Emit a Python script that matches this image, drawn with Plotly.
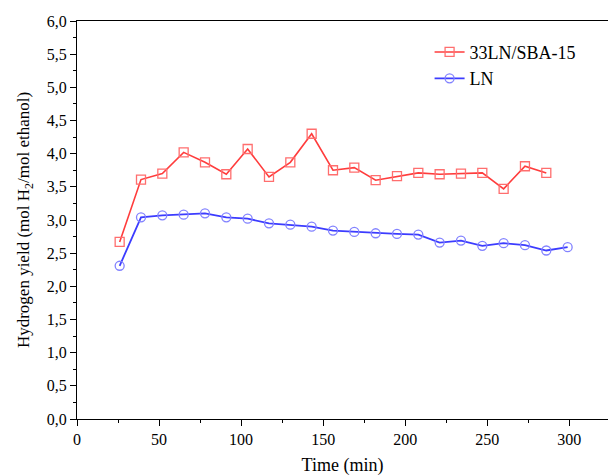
import plotly.graph_objects as go

time_red = [26, 39, 52, 65, 78, 91, 104, 117, 130, 143, 156, 169, 182, 195, 208, 221, 234, 247, 260, 273, 286]
yield_red = [2.67, 3.61, 3.70, 4.02, 3.87, 3.69, 4.07, 3.65, 3.87, 4.30, 3.75, 3.79, 3.60, 3.66, 3.71, 3.69, 3.70, 3.71, 3.47, 3.81, 3.71]

time_blue = [26, 39, 52, 65, 78, 91, 104, 117, 130, 143, 156, 169, 182, 195, 208, 221, 234, 247, 260, 273, 286, 299]
yield_blue = [2.31, 3.04, 3.07, 3.08, 3.10, 3.04, 3.02, 2.95, 2.93, 2.90, 2.84, 2.82, 2.80, 2.79, 2.78, 2.66, 2.69, 2.61, 2.65, 2.62, 2.54, 2.59]

FONT = "Liberation Serif"

fig = go.Figure()
fig.add_trace(go.Scatter(
    x=time_red, y=yield_red, name="33LN/SBA-15", mode="lines+markers",
    line=dict(color="rgb(255,60,60)", width=1.6),
    marker=dict(symbol="square-open", size=9, color="rgb(255,110,110)", line=dict(width=1.3)),
))
fig.add_trace(go.Scatter(
    x=time_blue, y=yield_blue, name="LN", mode="lines+markers",
    line=dict(color="rgb(60,60,255)", width=1.8),
    marker=dict(symbol="circle-open", size=9, color="rgb(130,130,255)", line=dict(width=1.3)),
))

fig.update_layout(
    width=608, height=476,
    margin=dict(l=77, r=0, t=21, b=57),
    paper_bgcolor="white", plot_bgcolor="white",
    separators=", ",
    font=dict(family=FONT, size=15, color="black"),
    showlegend=True,
    legend=dict(x=0.664, y=0.968, xanchor="left", yanchor="top",
                font=dict(family=FONT, size=18), bgcolor="rgba(0,0,0,0)",
                tracegroupgap=0, itemwidth=30),
    xaxis=dict(
        range=[0, 323.6], showgrid=False, zeroline=False,
        showline=True, linecolor="black", linewidth=1.3, mirror=True,
        ticks="outside", ticklen=6, tickcolor="black", tickwidth=1.2,
        dtick=50, tick0=0, tickfont=dict(family=FONT, size=16),
        minor=dict(ticks="outside", ticklen=3, dtick=25, tick0=0, tickcolor="black", showgrid=False),
        title=dict(text="Time (min)", font=dict(family=FONT, size=18), standoff=12),
    ),
    yaxis=dict(
        range=[0, 6], showgrid=False, zeroline=False,
        showline=True, linecolor="black", linewidth=1.3,
        ticks="outside", ticklen=6, tickcolor="black", tickwidth=1.2,
        dtick=0.5, tick0=0, tickformat=".1f", tickfont=dict(family=FONT, size=16),
        minor=dict(ticks="outside", ticklen=3, dtick=0.25, tick0=0, tickcolor="black", showgrid=False),
        title=dict(text="Hydrogen yield (mol H<sub>2</sub>/mol ethanol)", font=dict(family=FONT, size=17), standoff=12),
    ),
)

fig.write_html("out.html")
